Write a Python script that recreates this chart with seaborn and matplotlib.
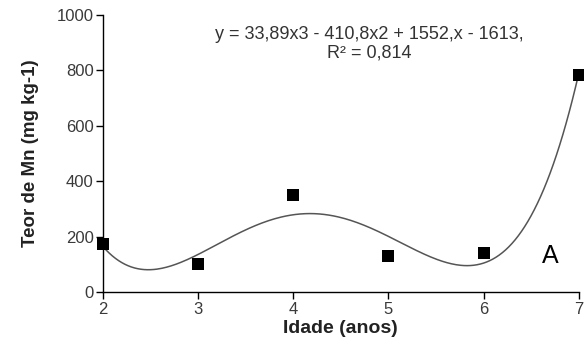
import numpy as np
import pandas as pd
import matplotlib
matplotlib.use("Agg")
import matplotlib.pyplot as plt
import seaborn as sns

# Data
idade = [2, 3, 4, 5, 6, 7]
teor_mn = [172, 100, 350, 130, 140, 782]
x_ticks = [2, 3, 4, 5, 6, 7]
y_ticks = [0, 200, 400, 600, 800, 1000]
equation_text = "y = 33,89x3 - 410,8x2 + 1552,x - 1613,\nR\u00b2 = 0,814"
panel_label = "A"

sns.set_theme(style="ticks")
plt.rcParams['font.family'] = ['Liberation Sans', 'DejaVu Sans']

fig = plt.figure(figsize=(5.84, 3.51), dpi=100)
ax = fig.add_axes([0.176, 0.168, 0.815, 0.789])

# Polynomial trendline fitted to the data
coef = np.polyfit(idade, teor_mn, 4)
xs = np.linspace(min(idade), max(idade), 300)
trend = pd.DataFrame({"x": xs, "y": np.polyval(coef, xs)})
sns.lineplot(data=trend, x="x", y="y", ax=ax, color="#555555", linewidth=1.1)

df = pd.DataFrame({"idade": idade, "teor": teor_mn})
sns.scatterplot(data=df, x="idade", y="teor", ax=ax, marker="s", s=85,
                color="black", edgecolor="black", linewidth=0, zorder=5, clip_on=False)

ax.set_xlim(2, 7)
ax.set_ylim(0, 1000)
ax.set_xticks(x_ticks)
ax.set_yticks(y_ticks)
ax.tick_params(axis="both", labelsize=12, length=5, width=1, color="black",
               labelcolor="#3a3a3a")
ax.tick_params(axis="y", pad=1.5)
ax.tick_params(axis="x", pad=2)
for side in ["top", "right"]:
    ax.spines[side].set_visible(False)
for side in ["left", "bottom"]:
    ax.spines[side].set_color("black")
    ax.spines[side].set_linewidth(1)

ax.set_xlabel("Idade (anos)", fontsize=14, fontweight="bold", labelpad=2, color="#222222")
ax.set_ylabel("Teor de Mn (mg kg-1)", fontsize=13.5, fontweight="bold", labelpad=13, color="#222222")

ax.text(0.56, 0.96, equation_text, transform=ax.transAxes, ha="center", va="top",
        fontsize=13, color="#333333", linespacing=1.1)
ax.text(0.94, 0.13, panel_label, transform=ax.transAxes, ha="center", va="center",
        fontsize=18, color="black")

fig.savefig("out.png", dpi=100)
